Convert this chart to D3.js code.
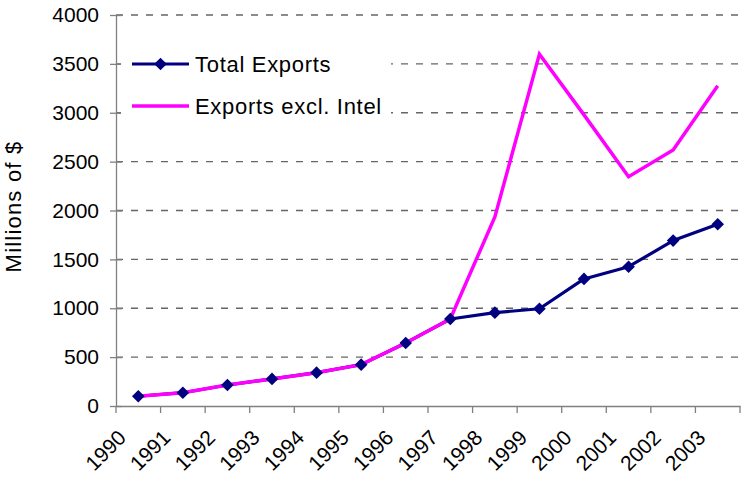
<!DOCTYPE html>
<html>
<head>
<meta charset="utf-8">
<script src="https://cdn.jsdelivr.net/npm/d3@7"></script>
<style>
  html, body { margin: 0; padding: 0; background: #fff; }
  svg { display: block; font-family: Arial, "Liberation Sans", sans-serif; }
</style>
</head>
<body>
<svg id="chart" width="741" height="477"></svg>
<script>
const years = ["1990","1991","1992","1993","1994","1995","1996","1997","1998","1999","2000","2001","2002","2003"];
const totalExports = [100, 136, 215, 277, 341, 423, 645, 890, 955, 995, 1300, 1425, 1692, 1860];
const exportsExclIntel = [100, 136, 215, 277, 341, 423, 645, 890, 1935, 3600, 2978, 2345, 2620, 3275];
const yTicks = [0, 500, 1000, 1500, 2000, 2500, 3000, 3500, 4000];
const seriesNames = ["Total Exports", "Exports excl. Intel"];

(function () {
const svg = d3.select("#chart");
const pLeft = 116, pRight = 740, pTop = 15, pBottom = 406;

const x = d3.scaleBand().domain(years).range([pLeft, pRight]).paddingInner(0).paddingOuter(0);
const y = d3.scaleLinear().domain([0, 4000]).range([pBottom, pTop]);
const cx = d => x(d) + x.bandwidth() / 2;

// gridlines
svg.append("g").selectAll("line").data(yTicks.filter(v => v > 0)).join("line")
  .attr("x1", pLeft).attr("x2", pRight)
  .attr("y1", d => y(d)).attr("y2", d => y(d))
  .attr("stroke", "#666").attr("stroke-width", 1.3).attr("stroke-dasharray", "7,8");

// y axis
const yAxis = d3.axisLeft(y).tickValues(yTicks).tickFormat(d3.format("d"))
  .tickSizeInner(6).tickSizeOuter(0).tickPadding(11);
const gy = svg.append("g").attr("transform", `translate(${pLeft},0)`).call(yAxis);
gy.select(".domain").attr("stroke", "#808080").attr("stroke-width", 1.3);
gy.selectAll(".tick line").attr("stroke", "#808080").attr("stroke-width", 1.3).attr("x2", 6).attr("x1", -6);
gy.selectAll(".tick text").attr("font-size", 21).attr("fill", "#000")
  .attr("font-family", "Arial, 'Liberation Sans', sans-serif");

// x axis
const xAxis = d3.axisBottom(x).tickSize(0).tickFormat("");
const gx = svg.append("g").attr("transform", `translate(0,${pBottom})`).call(xAxis);
gx.select(".domain").attr("stroke", "#808080").attr("stroke-width", 1.3);
gx.selectAll(".tick").remove();
// category boundary ticks
const bounds = years.map(d => x(d)).concat([pRight]);
svg.append("g").selectAll("line").data(bounds).join("line")
  .attr("x1", d => d).attr("x2", d => d)
  .attr("y1", pBottom).attr("y2", pBottom + 7)
  .attr("stroke", "#808080").attr("stroke-width", 1.3);
// rotated labels
svg.append("g").selectAll("text").data(years).join("text")
  .attr("text-anchor", "end")
  .attr("font-size", 21)
  .attr("transform", d => `translate(${cx(d) - 11},${439}) rotate(-45)`)
  .text(d => d);

// y title
svg.append("text")
  .attr("transform", "translate(21,206.5) rotate(-90)")
  .attr("text-anchor", "middle")
  .attr("font-size", 22)
  .attr("letter-spacing", 1.2)
  .text("Millions of $");

// lines
const line = d3.line().x((d, i) => cx(years[i])).y(d => y(d));
svg.append("path").datum(totalExports).attr("d", line)
  .attr("fill", "none").attr("stroke", "#000080").attr("stroke-width", 3.2).attr("stroke-linejoin", "round");
svg.append("path").datum(exportsExclIntel).attr("d", line)
  .attr("fill", "none").attr("stroke", "#FF00FF").attr("stroke-width", 3.5).attr("stroke-linejoin", "miter");

const diamondPath = s => `M0,${-s}L${s},0L0,${s}L${-s},0Z`;
svg.append("g").selectAll("path").data(totalExports).join("path")
  .attr("d", diamondPath(6.3))
  .attr("transform", (d, i) => `translate(${cx(years[i])},${y(d)})`)
  .attr("fill", "#000080");

// legend
const lg = svg.append("g");
lg.append("rect").attr("x", 121).attr("y", 40).attr("width", 270).attr("height", 88).attr("fill", "#fff");
const legendY = [64, 106];
const colors = ["#000080", "#FF00FF"];
seriesNames.forEach((name, i) => {
  lg.append("line").attr("x1", 132).attr("x2", 189).attr("y1", legendY[i]).attr("y2", legendY[i])
    .attr("stroke", colors[i]).attr("stroke-width", i === 0 ? 3.2 : 3.5);
  if (i === 0) {
    lg.append("path").attr("d", diamondPath(6.3)).attr("transform", `translate(160.5,${legendY[i]})`).attr("fill", colors[i]);
  }
  lg.append("text").attr("x", 195).attr("y", legendY[i] + 8)
    .attr("font-size", 22).attr("letter-spacing", 0.7).text(name);
});
})();
</script>
</body>
</html>
